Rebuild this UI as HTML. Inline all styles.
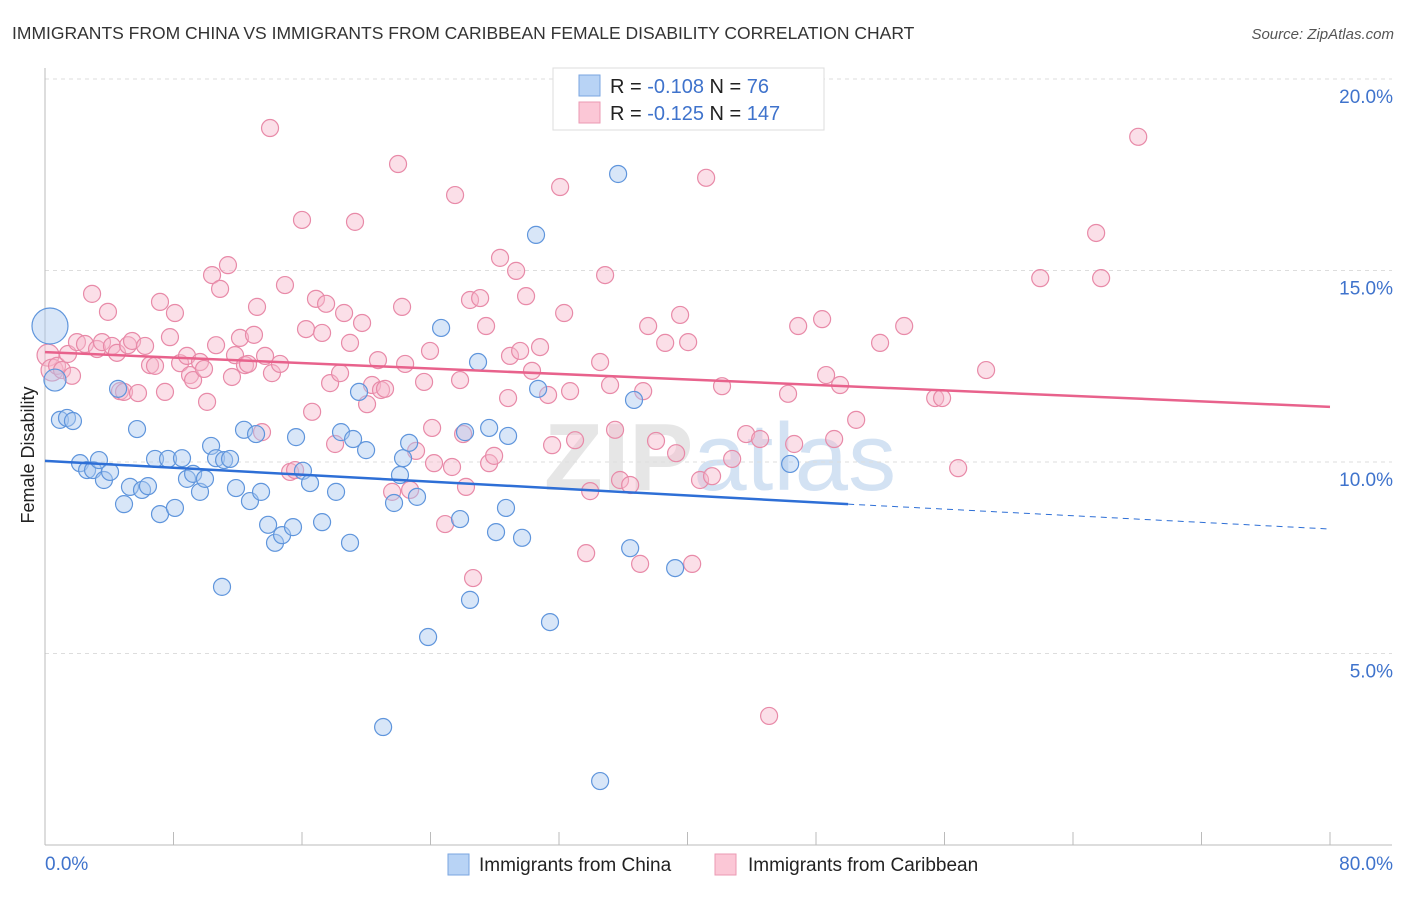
<!DOCTYPE html>
<html><head><meta charset="utf-8"><style>
body{margin:0;background:#fff;font-family:"Liberation Sans",sans-serif}
svg text{font-family:"Liberation Sans",sans-serif}
</style></head><body>
<svg id="chart" width="1406" height="892" viewBox="0 0 1406 892">
<text x="12" y="39" font-size="17.5" fill="#333">IMMIGRANTS FROM CHINA VS IMMIGRANTS FROM CARIBBEAN FEMALE DISABILITY CORRELATION CHART</text>
<text x="1394" y="39" font-size="15" fill="#555" font-style="italic" text-anchor="end">Source: ZipAtlas.com</text>
<text x="720" y="490" font-size="96" font-weight="bold" fill="#e6e6e6" text-anchor="middle">ZIP<tspan fill="#d3e2f3" font-weight="normal">atlas</tspan></text>
<g id="grid"></g>
<g id="axes"></g>
<g id="trend"></g>
<g id="pts"></g>
<text transform="translate(34,455) rotate(-90)" font-size="18" fill="#222" text-anchor="middle">Female Disability</text>
<g>
<rect x="553" y="68" width="271" height="62" fill="#fff" stroke="#ddd"/>
<rect x="579" y="75" width="21" height="21" fill="#b8d3f5" stroke="#7aa6e0"/>
<rect x="579" y="102" width="21" height="21" fill="#fbc7d6" stroke="#eb9ab3"/>
<text x="610" y="93" font-size="20" fill="#222">R = <tspan fill="#3f73cc">-0.108</tspan>   N = <tspan fill="#3f73cc">  76</tspan></text>
<text x="610" y="120" font-size="20" fill="#222">R = <tspan fill="#3f73cc"> -0.125</tspan>   N = <tspan fill="#3f73cc">147</tspan></text>
</g>
<g>
<rect x="448" y="854" width="21" height="21" fill="#b8d3f5" stroke="#7aa6e0"/>
<text x="479" y="871" font-size="19" fill="#222">Immigrants from China</text>
<rect x="715" y="854" width="21" height="21" fill="#fbc7d6" stroke="#eb9ab3"/>
<text x="748" y="871" font-size="19" fill="#222">Immigrants from Caribbean</text>
</g>
</svg>
<script>
const yTicks=[5,10,15,20];
const yTickLabels=["5.0%","10.0%","15.0%","20.0%"];
const xEndLabels=["0.0%","80.0%"];
const chinaX=[0.31,0.62,0.93,1.37,1.74,2.18,2.62,2.99,3.36,3.67,4.05,4.55,4.92,5.29,5.73,6.04,6.41,6.85,7.16,7.66,8.09,8.53,8.84,9.22,9.65,9.96,10.34,10.65,11.02,11.15,11.52,11.89,12.39,12.76,13.14,13.45,13.89,14.32,14.76,15.44,15.63,16.06,16.50,17.25,18.12,18.43,18.99,19.18,19.55,19.99,21.05,21.73,22.10,22.29,22.67,23.16,23.85,24.66,25.84,26.15,26.46,26.96,27.65,28.08,28.70,28.83,29.70,30.57,30.70,31.44,34.56,35.68,36.43,36.67,39.23,46.39];
const chinaY=[13.55,12.14,11.10,11.15,11.07,9.97,9.79,9.79,10.05,9.53,9.74,11.91,8.90,9.35,10.86,9.27,9.37,10.08,8.64,10.08,8.80,10.10,9.56,9.69,9.22,9.56,10.42,10.10,6.74,10.05,10.08,9.32,10.84,8.98,10.73,9.22,8.36,7.89,8.09,8.30,10.65,9.77,9.45,8.43,9.22,10.78,7.89,10.60,11.83,10.31,3.08,8.93,9.66,10.10,10.50,9.09,5.43,13.50,8.51,10.78,6.40,12.61,10.89,8.17,8.80,10.68,8.02,15.93,11.91,5.82,1.67,17.52,7.75,11.62,7.23,9.95];
const cariX=[0.19,0.44,0.75,1.06,1.43,1.68,1.99,2.49,2.93,3.24,3.55,3.92,4.17,4.48,4.67,4.92,5.17,5.42,5.79,6.23,6.54,6.85,7.16,7.47,7.78,8.09,8.41,8.84,9.03,9.22,9.65,9.90,10.09,10.40,10.65,10.90,11.39,11.64,11.83,12.14,12.45,12.64,13.01,13.20,13.51,13.70,14.01,14.13,14.63,14.94,15.26,15.57,16.00,16.25,16.63,16.87,17.25,17.50,17.75,18.06,18.37,18.62,18.99,19.30,19.74,20.05,20.36,20.73,20.92,21.17,21.61,21.98,22.23,22.42,22.73,23.10,23.60,23.97,24.10,24.22,24.91,25.34,25.53,25.84,26.03,26.21,26.46,26.65,27.09,27.46,27.65,27.96,28.33,28.83,28.95,29.33,29.58,29.95,30.32,30.82,31.32,31.57,32.07,32.32,32.69,33.00,33.69,33.94,34.56,34.87,35.18,35.49,35.80,36.43,37.05,37.24,37.55,38.04,38.61,39.29,39.54,40.04,40.29,40.78,41.16,41.53,42.15,42.78,43.65,44.52,45.08,46.26,46.64,46.89,48.38,48.63,49.13,49.50,50.50,51.99,53.49,55.42,55.85,56.85,58.59,61.96,65.44,65.75,68.06];
const cariY=[12.79,12.40,12.51,12.40,12.82,12.25,13.13,13.08,14.39,12.95,13.13,13.92,13.03,12.85,11.85,11.83,13.05,13.16,11.80,13.03,12.53,12.51,14.18,11.83,13.26,13.89,12.58,12.77,12.27,12.14,12.61,12.43,11.57,14.88,13.05,14.52,15.14,12.22,12.79,13.24,12.53,12.56,13.32,14.05,10.78,12.77,18.72,12.32,12.56,14.62,9.74,9.79,16.32,13.47,11.31,14.26,13.37,14.13,12.06,10.47,12.32,13.89,13.11,16.27,13.63,11.51,12.01,12.66,11.88,11.91,9.22,17.78,14.05,12.56,9.27,10.29,12.09,12.90,10.89,9.97,8.38,9.87,16.97,12.14,10.73,9.35,14.23,6.97,14.28,13.55,9.97,10.16,15.33,11.67,12.77,14.99,12.90,14.33,12.38,13.00,11.75,10.44,17.18,13.89,11.85,10.57,7.62,9.24,12.61,14.88,12.01,10.84,9.53,9.40,7.34,11.85,13.55,10.55,13.11,10.23,13.84,13.13,7.34,9.53,17.42,9.63,11.98,10.08,10.73,10.60,3.37,11.78,10.47,13.55,13.73,12.27,10.60,12.01,11.10,13.11,13.55,11.67,11.67,9.84,12.40,14.80,15.98,14.80,18.49];
const chinaTrendX=[0,50,80];
const chinaTrendY=[10.03,8.90,8.25];
const cariTrendX=[0,80];
const cariTrendY=[12.87,11.44];

const NS="http://www.w3.org/2000/svg";
const X=v=>45+v*(1285/80);
const Y=v=>845-v*38.3;
function mk(tag,attrs,parent){const e=document.createElementNS(NS,tag);for(const k in attrs)e.setAttribute(k,attrs[k]);parent.appendChild(e);return e;}
const grid=document.getElementById('grid'),axes=document.getElementById('axes'),trend=document.getElementById('trend'),pts=document.getElementById('pts');
yTicks.forEach((t,i)=>{
 const l=mk('line',{x1:45,x2:1392,y1:Y(t),y2:Y(t),stroke:'#ddd','stroke-dasharray':'4 4'},grid);
 
 
 const tx=mk('text',{x:1393,y:Y(t)+24,'font-size':19,fill:'#3f73cc','text-anchor':'end'},axes);
 tx.textContent=yTickLabels[i];
 
 
});
let a=mk('line',{x1:45,x2:45,y1:68,y2:845,stroke:'#bbb'},axes);


a=mk('line',{x1:45,x2:1392,y1:845,y2:845,stroke:'#bbb'},axes);


for(let i=0;i<=10;i++){
 const t=mk('line',{x1:X(i*8),x2:X(i*8),y1:845,y2:832,stroke:'#bbb'},axes);
 
 
}
[[0,'start',45],[80,'end',1393]].forEach((d,i)=>{
 const tx=mk('text',{x:d[2],y:870,'font-size':19,fill:'#3f73cc','text-anchor':d[1]},axes);
 tx.textContent=xEndLabels[i];
 
 
});
function dot(x,y,r,fill,stroke,name){
 const c=mk('circle',{cx:X(x),cy:Y(y),r:r,fill:fill,'fill-opacity':0.45,stroke:stroke,'stroke-width':1.2},pts);
 
 
}
cariX.forEach((x,i)=>dot(x,cariY[i],i<2?11:8.5,'#f7b8cb','#e88aa8','caribbean-point'));
chinaX.forEach((x,i)=>dot(x,chinaY[i],i==0?18:(i==1?11:8.5),'#a9c8f0','#5f95dc','china-point'));
let p=mk('line',{x1:X(chinaTrendX[0]),y1:Y(chinaTrendY[0]),x2:X(chinaTrendX[1]),y2:Y(chinaTrendY[1]),stroke:'#2e6fd6','stroke-width':2.5},trend);


p=mk('line',{x1:X(chinaTrendX[1]),y1:Y(chinaTrendY[1]),x2:X(chinaTrendX[2]),y2:Y(chinaTrendY[2]),stroke:'#2e6fd6','stroke-width':1,'stroke-dasharray':'6 5'},trend);


p=mk('line',{x1:X(cariTrendX[0]),y1:Y(cariTrendY[0]),x2:X(cariTrendX[1]),y2:Y(cariTrendY[1]),stroke:'#e8628c','stroke-width':2.5},trend);


document.getElementById('chart').appendChild(trend);
</script>
</body></html>
